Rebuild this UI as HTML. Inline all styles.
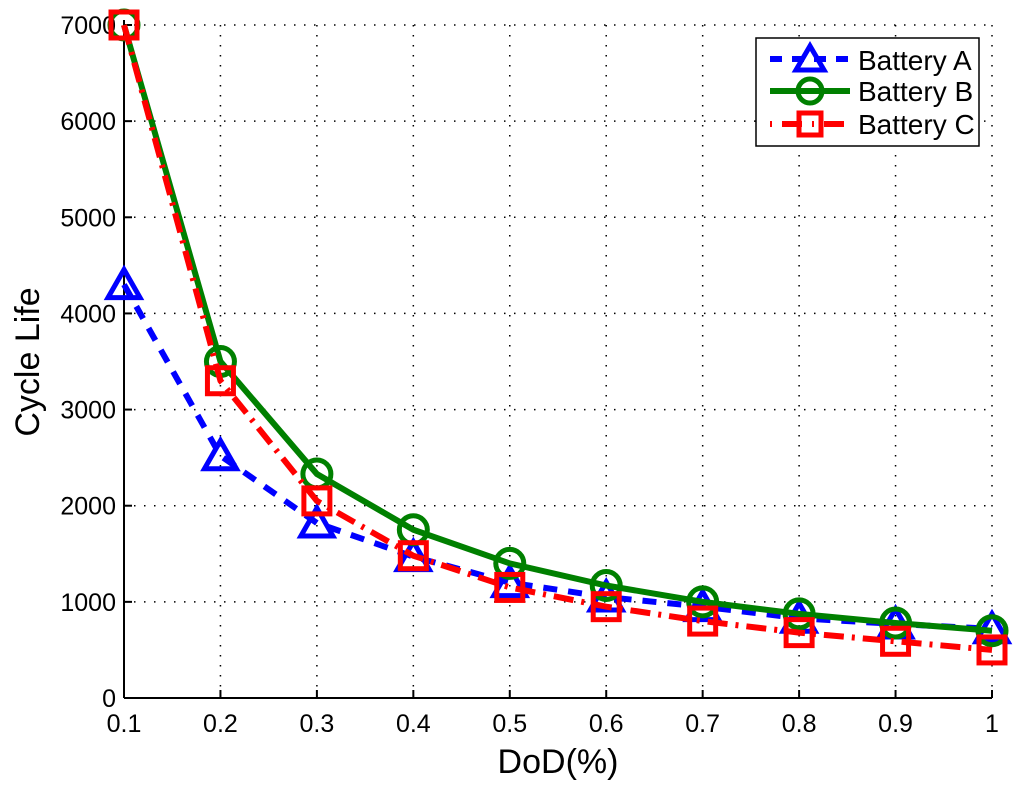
<!DOCTYPE html>
<html><head><meta charset="utf-8"><style>
body{margin:0;background:#fff;}
svg{display:block;font-family:"Liberation Sans",Arial,sans-serif;}
</style></head><body>
<svg id="chart" width="1024" height="787" viewBox="0 0 1024 787">
<g id="grid"></g>
<g id="axes"></g>
<g id="series"></g>
<text x="558" y="773" font-size="34" text-anchor="middle">DoD(%)</text>
<text transform="translate(39,362) rotate(-90)" font-size="34" text-anchor="middle">Cycle Life</text>
<g>
<rect x="756" y="38" width="223" height="108" fill="#fff" stroke="#000" stroke-width="1.5"/>
<g>
<line x1="770" y1="59" x2="850" y2="59" stroke="#0000ff" stroke-width="6" stroke-dasharray="12,10"/>
<polygon points="810,46 796,70 824,70" fill="none" stroke="#0000ff" stroke-width="5"/>
<text x="858" y="70" font-size="28">Battery A</text></g>
<g>
<line x1="770" y1="91" x2="850" y2="91" stroke="#008000" stroke-width="6"/>
<circle cx="810" cy="91" r="12" fill="none" stroke="#008000" stroke-width="5"/>
<text x="858" y="101" font-size="28">Battery B</text></g>
<g>
<line x1="770" y1="124" x2="850" y2="124" stroke="#ff0000" stroke-width="6" stroke-dasharray="2,10,20,10"/>
<rect x="799" y="113" width="22" height="22" fill="none" stroke="#ff0000" stroke-width="5"/>
<text x="858" y="134" font-size="28">Battery C</text></g>
</g>
</svg>
<script>
const dod=[0.1,0.2,0.3,0.4,0.5,0.6,0.7,0.8,0.9,1];
const batteryA=[4300,2520,1820,1470,1200,1050,950,830,770,720];
const batteryB=[7000,3500,2330,1750,1400,1170,1000,875,780,700];
const batteryC=[7000,3300,2050,1480,1150,950,800,680,590,500];
const xTicks=[0.1,0.2,0.3,0.4,0.5,0.6,0.7,0.8,0.9,1];
const xTickLabels=["0.1","0.2","0.3","0.4","0.5","0.6","0.7","0.8","0.9","1"];
const yTicks=[0,1000,2000,3000,4000,5000,6000,7000];
const NS="http://www.w3.org/2000/svg";
const X0=124,X1=992,Y0=698,Y1=25;
const xs=v=>X0+(v-0.1)/0.9*(X1-X0);
const ys=v=>Y0-v/7000*(Y0-Y1);
function mk(tag,attrs,parent){const e=document.createElementNS(NS,tag);for(const k in attrs)e.setAttribute(k,attrs[k]);parent.appendChild(e);return e;}
const grid=document.getElementById('grid'),axes=document.getElementById('axes'),ser=document.getElementById('series');
xTicks.forEach((t,i)=>{
  const g=mk('line',{x1:xs(t),x2:xs(t),y1:Y1,y2:Y0,stroke:'#000','stroke-width':1.5,'stroke-dasharray':'1.5,8.5'},grid);
  
  
  mk('line',{x1:xs(t),x2:xs(t),y1:Y0,y2:Y0-8,stroke:'#000','stroke-width':2},axes);
  const tx=mk('text',{x:xs(t),y:Y0+34,'font-size':25,'text-anchor':'middle'},axes);
  tx.textContent=xTickLabels[i];
  
  
});
yTicks.forEach(t=>{
  const g=mk('line',{x1:X0,x2:X1,y1:ys(t),y2:ys(t),stroke:'#000','stroke-width':1.5,'stroke-dasharray':'1.5,8.5'},grid);
  
  
  mk('line',{x1:X0,x2:X0+8,y1:ys(t),y2:ys(t),stroke:'#000','stroke-width':2},axes);
  const tx=mk('text',{x:X0-8,y:ys(t)+9,'font-size':25,'text-anchor':'end'},axes);
  tx.textContent=String(t);
  
  
});
mk('line',{x1:X0,x2:X1,y1:Y0,y2:Y0,stroke:'#000','stroke-width':2},axes);
mk('line',{x1:X0,x2:X0,y1:Y0,y2:Y1-5,stroke:'#000','stroke-width':2},axes);
function drawSeries(vals,color,dash,marker,name){
  const pts=vals.map((v,i)=>xs(dod[i])+','+ys(v)).join(' ');
  const l=mk('polyline',{points:pts,fill:'none',stroke:color,'stroke-width':6,'stroke-dasharray':dash},ser);
  
  
  vals.forEach((v,i)=>{
    const cx=xs(dod[i]),cy=ys(v);let m;
    if(marker==='tri')m=mk('polygon',{points:`${cx},${cy-15} ${cx-16},${cy+13} ${cx+16},${cy+13}`,fill:'none',stroke:color,'stroke-width':5},ser);
    else if(marker==='circ')m=mk('circle',{cx:cx,cy:cy,r:14,fill:'none',stroke:color,'stroke-width':5},ser);
    else m=mk('rect',{x:cx-13,y:cy-13,width:26,height:26,fill:'none',stroke:color,'stroke-width':5},ser);
    
    
  });
}
drawSeries(batteryA,'#0000ff','14,11','tri','battery-a');
drawSeries(batteryB,'#008000','none','circ','battery-b');
drawSeries(batteryC,'#ff0000','20,8,3,8','sq','battery-c');
</script>
</body></html>
